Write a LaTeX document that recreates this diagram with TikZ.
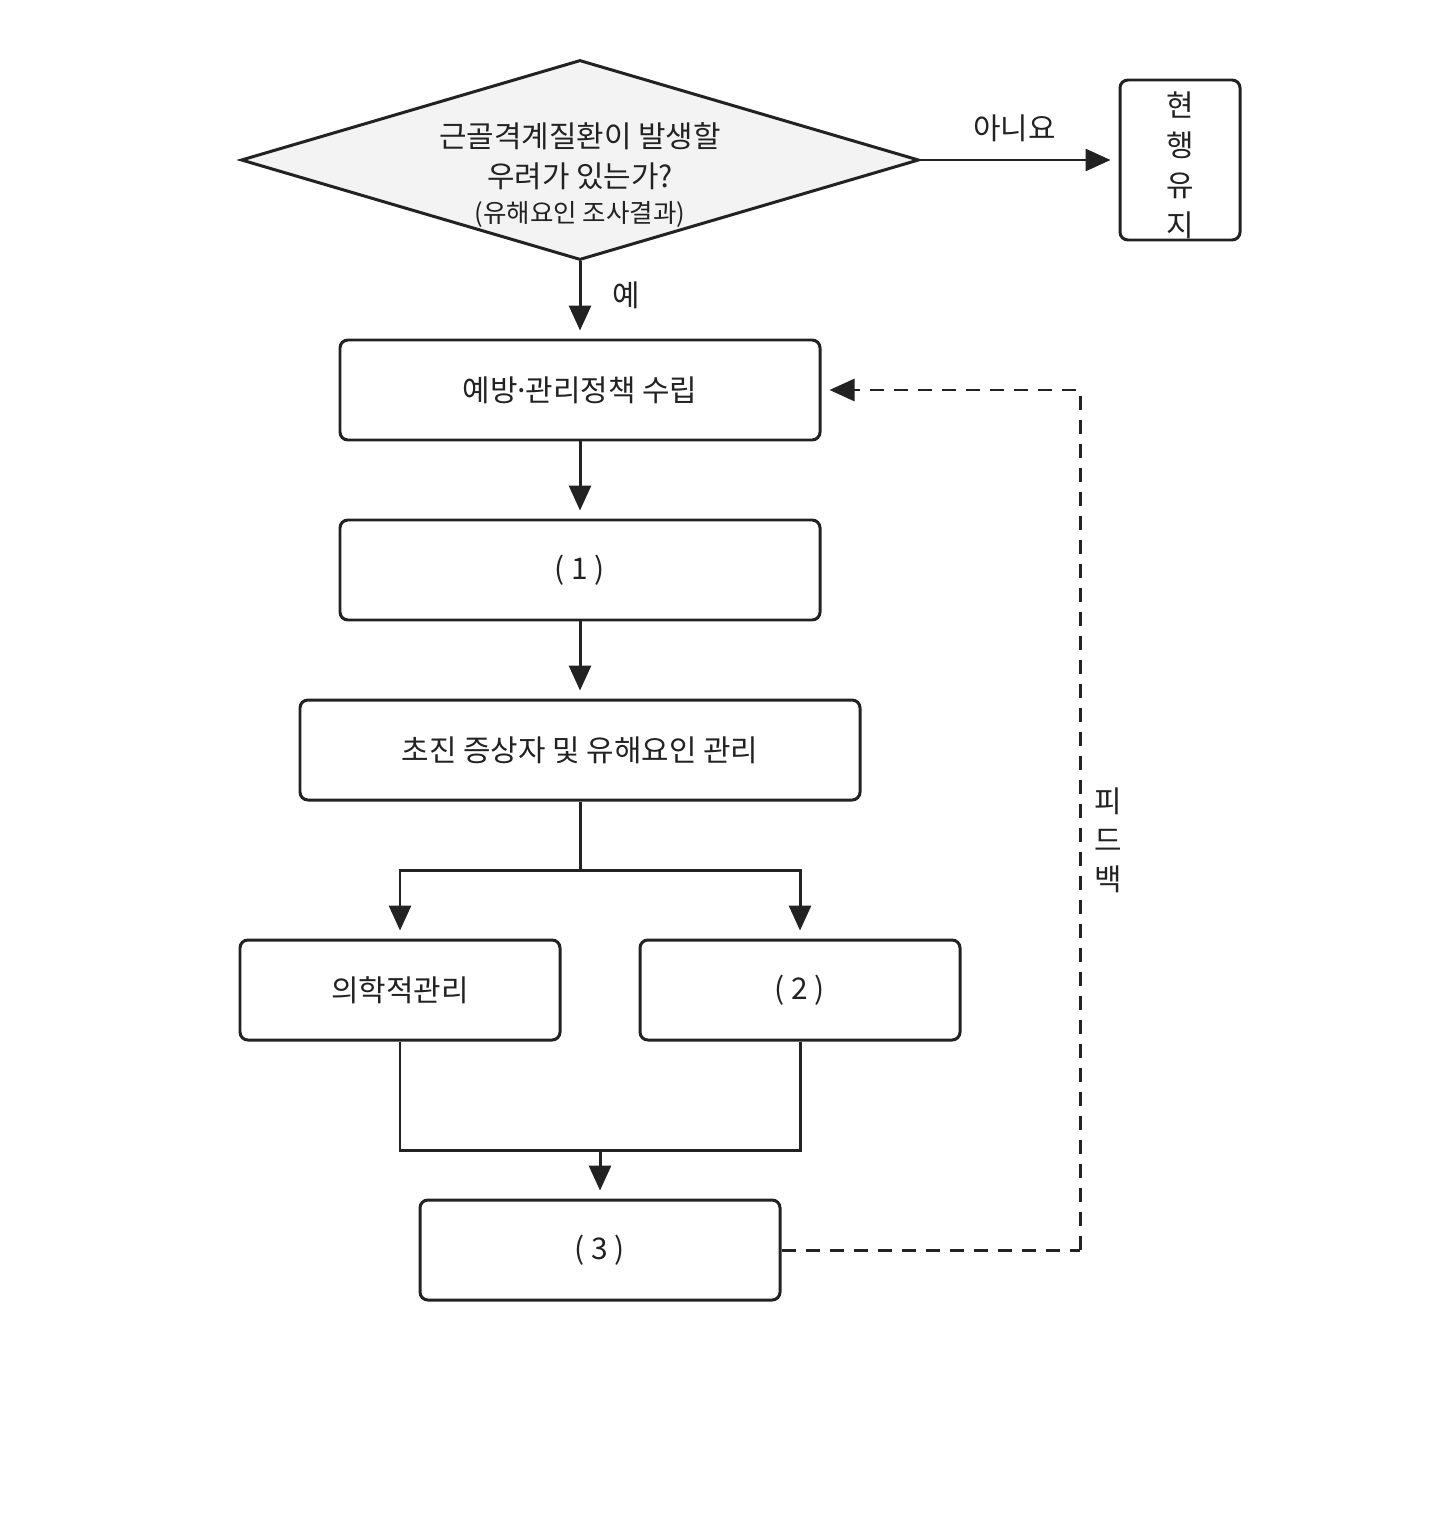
\documentclass[tikz,border=0pt]{standalone}
\usepackage{fontspec}
\setmainfont{Noto Sans CJK KR}
\usetikzlibrary{arrows.meta,shapes.geometric}
\definecolor{InkDark}{HTML}{222222}
\definecolor{PaleGrey}{HTML}{F3F3F3}

\begin{document}
\begin{tikzpicture}[font=\fontsize{17}{22}\selectfont,every node/.style={text=InkDark},line/.style={draw=InkDark,line width=1.7pt},arrow/.style={line,-{Triangle[length=0.5cm,width=0.44cm]},shorten >=0.16cm},stepbox/.style={draw=InkDark,fill=white,rounded corners=4.5pt,line width=1.7pt,minimum height=2cm,align=center},fbline/.style={line,dash pattern=on 0.28cm off 0.2cm}]
\useasboundingbox[fill=white] (0,0) rectangle (28.8,-30.4);
\node[shape=diamond,draw=InkDark,fill=PaleGrey,line width=1.7pt,aspect=3.39,inner sep=0pt,minimum width=13.56cm,minimum height=4cm,align=center] (ask) at (11.6,-3.2) {};
\node[align=center,font=\fontsize{17}{22.8}\selectfont] (asktext) at (11.6,-3.5) {근골격계질환이 발생할\\우려가 있는가?\\[-3pt]{\fontsize{14.5}{18}\selectfont(유해요인 조사결과)}};
\node[stepbox,minimum width=2.4cm,minimum height=3.2cm] (keep) at (23.6,-3.2) {};
\node[align=center,font=\fontsize{17}{22.8}\selectfont] (keeptext) at (23.6,-3.3) {현\\행\\유\\지};
\node[stepbox,minimum width=9.6cm] (plan) at (11.6,-7.8) {예방\kern-0.15em·\kern-0.15em관리정책 수립};
\node[stepbox,minimum width=9.6cm] (blank1) at (11.6,-11.4) {( 1 )};
\node[stepbox,minimum width=11.2cm] (early) at (11.6,-15) {초진 증상자 및 유해요인 관리};
\node[stepbox,minimum width=6.4cm] (medical) at (8,-19.8) {의학적관리};
\node[stepbox,minimum width=6.4cm] (blank2) at (16,-19.8) {( 2 )};
\node[stepbox,minimum width=7.2cm] (blank3) at (12,-25) {( 3 )};
% connectors
\draw[arrow] (ask.east) -- (keep.west) node[midway,above=0.22cm,xshift=-0.1cm] (no) {아니요};
\draw[arrow] (ask.south) -- (plan.north) node[midway,right=0.5cm,yshift=0.1cm] (yes) {예};
\draw[arrow] (plan) -- (blank1);
\draw[arrow] (blank1) -- (early);
\coordinate (split) at (11.6,-17.4);
\draw[line] (early.south) -- (split);
\draw[arrow] (split) -| (medical.north);
\draw[arrow] (split) -| (blank2.north);
\coordinate (merge) at (12,-23);
\draw[line] (medical.south) |- (merge) -| (blank2.south);
\draw[arrow] (merge) -- (blank3.north);
% feedback loop
\coordinate (fb) at (21.6,-25);
\draw[fbline] (blank3.east) -- (fb);
\draw[fbline,-{Triangle[length=0.5cm,width=0.44cm]},shorten >=0.16cm] (fb) |- (plan.east);
\node[align=center,font=\fontsize{17}{22.2}\selectfont] (fbtext) at (22.16,-16.8) {피\\드\\백};
\end{tikzpicture}
\end{document}
